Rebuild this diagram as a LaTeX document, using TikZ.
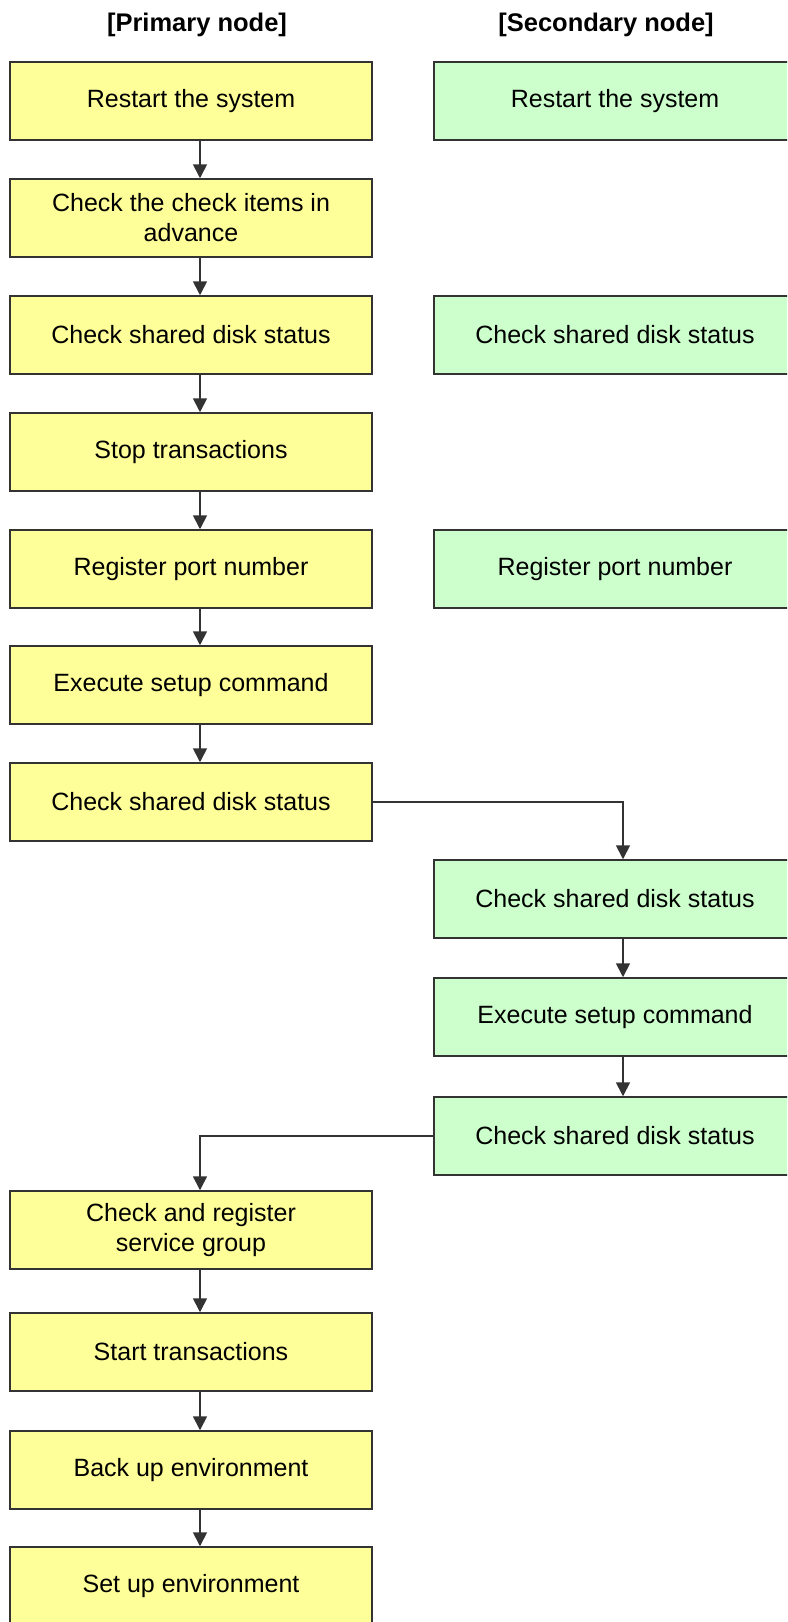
\documentclass[tikz,border=0pt]{standalone}
\usepackage{fontspec}
\setmainfont{Liberation Sans}
\usetikzlibrary{positioning,arrows.meta,calc}
\definecolor{PriFill}{HTML}{FFFF99}
\definecolor{SecFill}{HTML}{CCFFCC}

\begin{document}
\begin{tikzpicture}[
  x=1pt,y=-1pt,
  font=\fontsize{25}{30}\selectfont,
  box/.style={draw=black!80,line width=1.5pt,minimum width=362pt,minimum height=78pt,
              inner sep=0pt,align=center},
  pri/.style={box,fill=PriFill},
  sec/.style={box,fill=SecFill},
  hd/.style={font=\fontsize{25.5}{30}\selectfont\bfseries},
  ar/.style={-{Triangle[length=14pt,width=14pt]},draw=black!80,line width=1.7pt},
]
\clip (0,0) rectangle (787,1622);
\node[hd] (h1) at (197,25) {[Primary node]};
\node[hd] (h2) at (606,25) {[Secondary node]};
% primary node
\node[pri] (p1) at (191,101) {Restart the system};
\node[pri] (p2) at (191,218) {Check the check items in\\advance};
\node[pri] (p3) at (191,335) {Check shared disk status};
\node[pri] (p4) at (191,452) {Stop transactions};
\node[pri] (p5) at (191,569) {Register port number};
\node[pri] (p6) at (191,685) {Execute setup command};
\node[pri] (p7) at (191,802) {Check shared disk status};
\node[pri] (p8) at (191,1230) {Check and register\\service group};
\node[pri] (p9) at (191,1352) {Start transactions};
\node[pri] (p10) at (191,1470) {Back up environment};
\node[pri] (p11) at (191,1586) {Set up environment};
% secondary node
\node[sec] (s1) at (615,101) {Restart the system};
\node[sec] (s2) at (615,335) {Check shared disk status};
\node[sec] (s3) at (615,569) {Register port number};
\node[sec] (s4) at (615,899) {Check shared disk status};
\node[sec] (s5) at (615,1017) {Execute setup command};
\node[sec] (s6) at (615,1136) {Check shared disk status};
\draw[ar] ([xshift=9pt]p1.south) -- ([xshift=9pt]p2.north);
\draw[ar] ([xshift=9pt]p2.south) -- ([xshift=9pt]p3.north);
\draw[ar] ([xshift=9pt]p3.south) -- ([xshift=9pt]p4.north);
\draw[ar] ([xshift=9pt]p4.south) -- ([xshift=9pt]p5.north);
\draw[ar] ([xshift=9pt]p5.south) -- ([xshift=9pt]p6.north);
\draw[ar] ([xshift=9pt]p6.south) -- ([xshift=9pt]p7.north);
\draw[ar] (p7.east) -| ([xshift=8pt]s4.north);
\draw[ar] ([xshift=8pt]s4.south) -- ([xshift=8pt]s5.north);
\draw[ar] ([xshift=8pt]s5.south) -- ([xshift=8pt]s6.north);
\draw[ar] (s6.west) -| ([xshift=9pt]p8.north);
\draw[ar] ([xshift=9pt]p8.south) -- ([xshift=9pt]p9.north);
\draw[ar] ([xshift=9pt]p9.south) -- ([xshift=9pt]p10.north);
\draw[ar] ([xshift=9pt]p10.south) -- ([xshift=9pt]p11.north);
\end{tikzpicture}
\end{document}
